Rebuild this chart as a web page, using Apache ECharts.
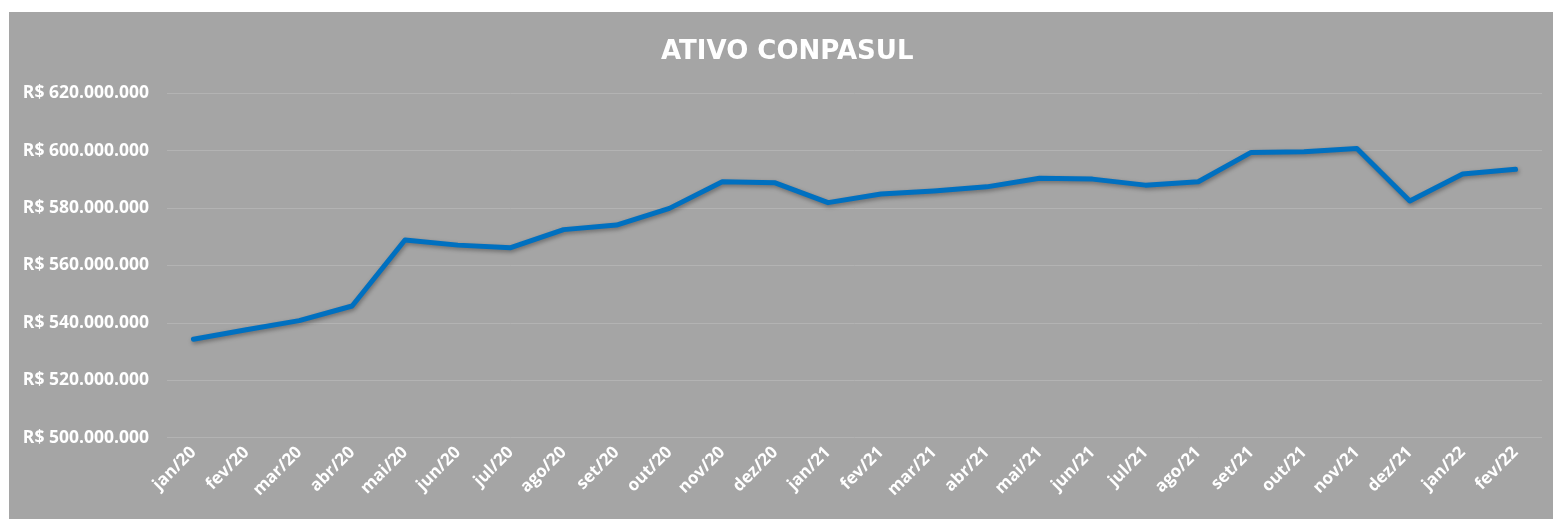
<!DOCTYPE html>
<html>
<head>
<meta charset="utf-8">
<script src="https://cdn.jsdelivr.net/npm/echarts@6/dist/echarts.min.js"></script>
<style>
html,body{margin:0;padding:0;background:#ffffff;width:1553px;height:519px;overflow:hidden;}
#chart{position:absolute;left:9px;top:12px;width:1544px;height:507px;}
</style>
</head>
<body>
<div id="chart"></div>
<script>
const categories = ['jan/20','fev/20','mar/20','abr/20','mai/20','jun/20','jul/20','ago/20','set/20','out/20','nov/20','dez/20',
  'jan/21','fev/21','mar/21','abr/21','mai/21','jun/21','jul/21','ago/21','set/21','out/21','nov/21','dez/21',
  'jan/22','fev/22'];
const ativo = [534.3,537.6,540.8,545.9,568.9,567.1,566.2,572.5,574.1,579.9,589.2,588.8,
  581.9,584.9,586.0,587.4,590.4,590.1,588.0,589.2,599.4,599.6,600.8,582.5,
  591.9,593.5].map(v => v * 1e6);
const yTicks = { min: 500e6, max: 620e6, interval: 20e6 };
const titleText = 'ATIVO CONPASUL';

function fmt(v) {
  const s = Math.round(v).toString().replace(/\B(?=(\d{3})+(?!\d))/g, '.');
  return 'R$ ' + s;
}

const chart = echarts.init(document.getElementById('chart'), null, {renderer: 'canvas'});
chart.setOption({
  backgroundColor: '#a5a5a5',
  animation: false,
  title: {
    text: titleText,
    left: 647,
    top: 22,
    textStyle: { color: '#ffffff', fontFamily: 'DejaVu Sans', fontWeight: 'bold', fontSize: 26 }
  },
  grid: { left: 158, right: 11, top: 81.3, bottom: 81.3, containLabel: false },
  xAxis: {
    type: 'category',
    data: categories,
    boundaryGap: true,
    axisLine: { show: false },
    axisTick: { show: false },
    axisLabel: {
      rotate: 45, interval: 0, margin: 12,
      color: '#ffffff', fontFamily: 'Open Sans', fontWeight: 'bold', fontSize: 17
    }
  },
  yAxis: {
    type: 'value',
    min: yTicks.min, max: yTicks.max, interval: yTicks.interval,
    axisLine: { show: false },
    axisTick: { show: false },
    splitLine: { lineStyle: { color: '#b3b3b3', width: 1 } },
    axisLabel: {
      formatter: fmt, margin: 18,
      color: '#ffffff', fontFamily: 'Open Sans', fontWeight: 'bold', fontSize: 17.5
    }
  },
  series: [{
    type: 'line',
    data: ativo,
    symbol: 'none',
    lineStyle: {
      color: '#0070c0', width: 5, cap: 'round', join: 'round',
      shadowColor: 'rgba(0,0,0,0.35)', shadowBlur: 4, shadowOffsetY: 2, shadowOffsetX: 1
    }
  }]
});
</script>
</body>
</html>
